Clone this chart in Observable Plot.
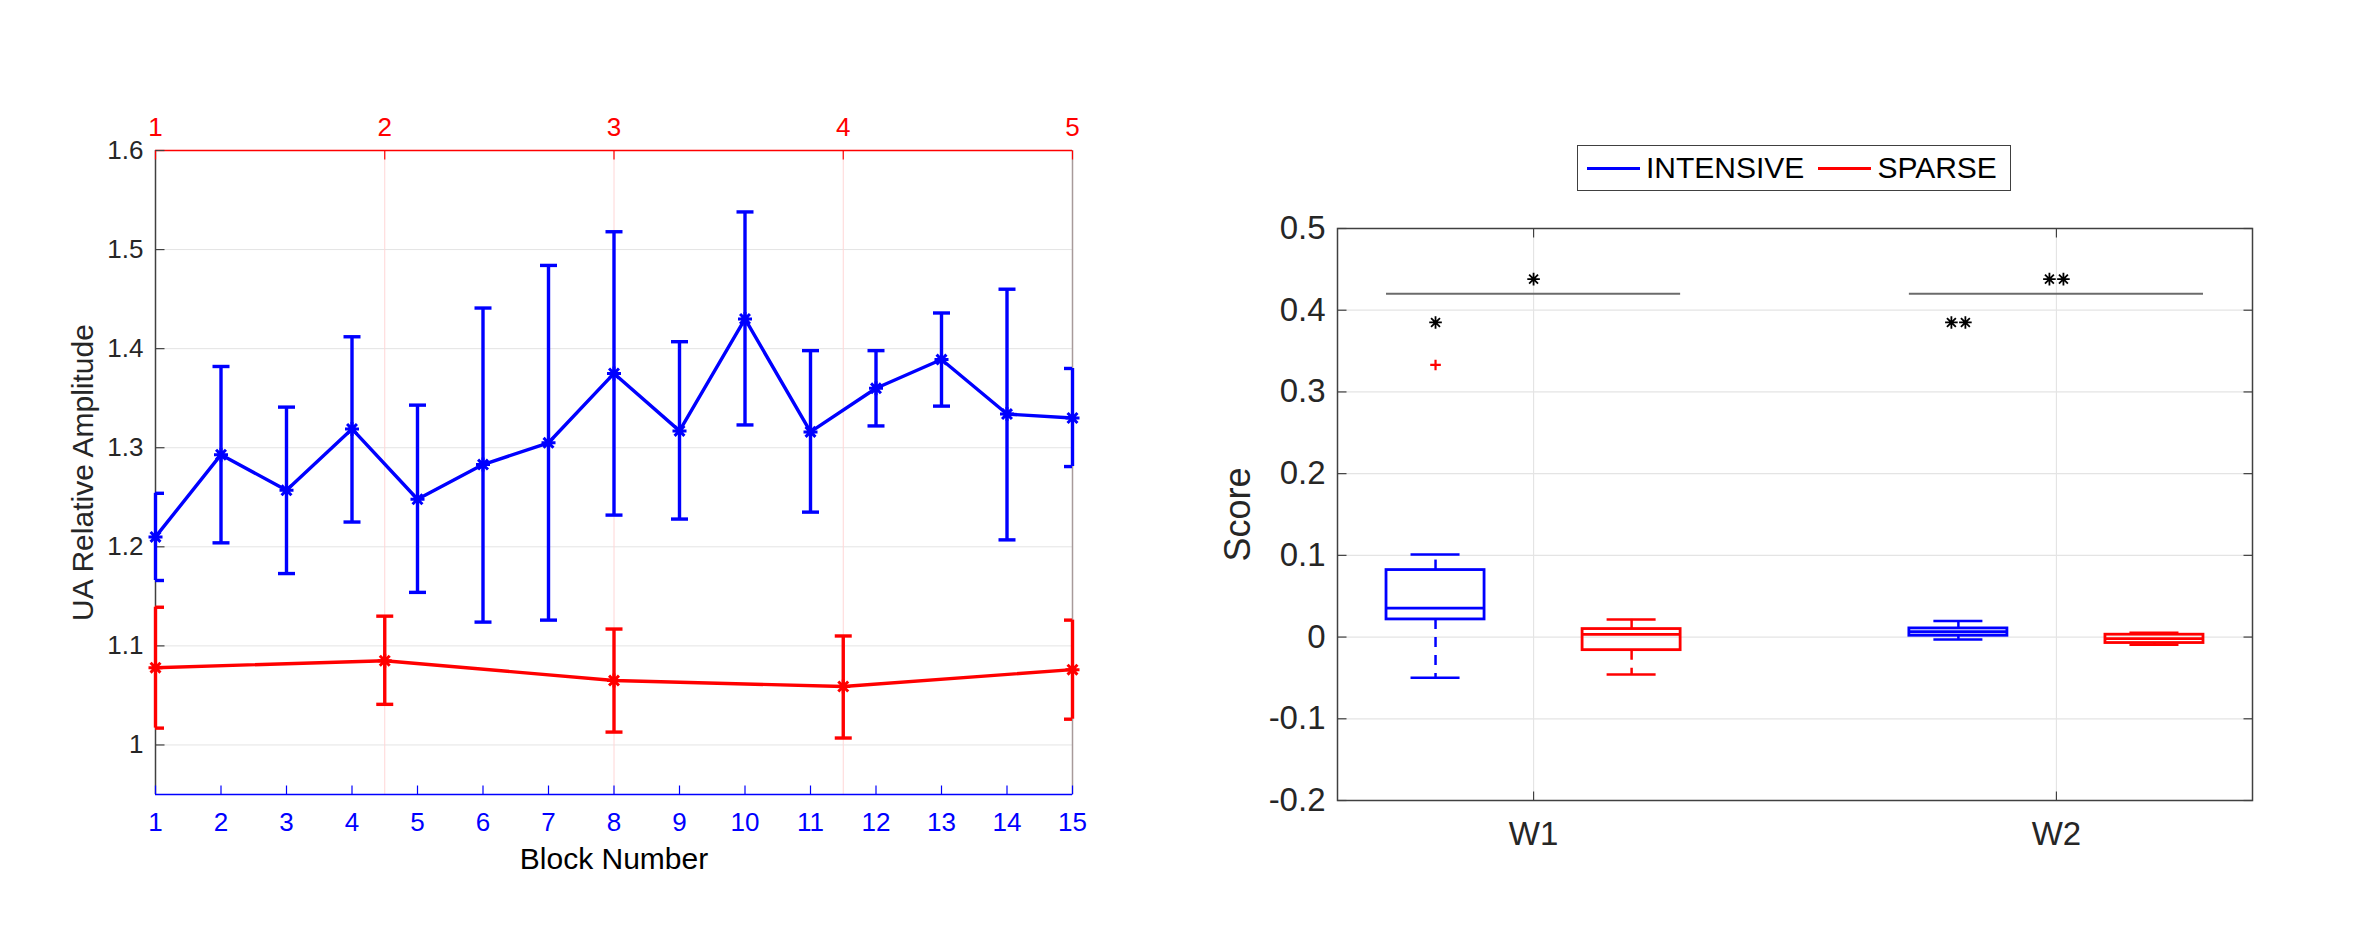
<!DOCTYPE html>
<html><head><meta charset="utf-8">
<script src="https://cdn.jsdelivr.net/npm/d3@7"></script>
<script src="https://cdn.jsdelivr.net/npm/@observablehq/plot@0.6"></script>
<style>
html,body{margin:0;padding:0;background:#fff;}
#wrap{position:relative;width:2362px;height:945px;overflow:hidden;background:#fff;font-family:"Liberation Sans",Arial,sans-serif;}
#left{position:absolute;left:0;top:0;}
#right{position:absolute;left:1150px;top:0;}
#legend{position:absolute;left:1577px;top:145px;width:434px;height:46px;box-sizing:border-box;border:1.5px solid #404040;background:#fff;display:flex;align-items:center;padding-left:9px;}
.item{display:flex;align-items:center;margin-right:14px;}
.swatch{width:53px;height:3px;margin-right:6px;}
.lab{font-size:30px;color:#000;line-height:1;font-family:"Liberation Sans",Arial,sans-serif;}
</style></head><body>
<div id="wrap"><div id="left"></div><div id="right"></div><div id="legend"></div></div>
<script>
// ---------------- Left chart data ----------------
const blocks = [1,2,3,4,5,6,7,8,9,10,11,12,13,14,15];
const intensiveMean  = [1.210,1.293,1.257,1.319,1.248,1.283,1.305,1.375,1.317,1.430,1.316,1.360,1.389,1.334,1.330];
const intensiveUpper = [1.254,1.382,1.341,1.412,1.343,1.441,1.484,1.518,1.407,1.538,1.398,1.398,1.436,1.460,1.380];
const intensiveLower = [1.166,1.204,1.173,1.225,1.154,1.124,1.126,1.232,1.228,1.323,1.235,1.322,1.342,1.207,1.281];
const sessions = [1,2,3,4,5];
const sparseMean  = [1.078,1.085,1.065,1.059,1.076];
const sparseUpper = [1.139,1.130,1.117,1.110,1.126];
const sparseLower = [1.017,1.041,1.013,1.007,1.026];
const leftYTicks = [1,1.1,1.2,1.3,1.4,1.5,1.6];
const leftYDomain = [0.95,1.6];
const blockDomain = [1,15];
const sessionDomain = [1,5];
const leftXLabel = "Block Number";
const leftYLabel = "UA Relative Amplitude";

// ---------------- Right chart data ----------------
const weeks = ["W1","W2"];
const weekPos = [1,2];
const seriesNames = ["INTENSIVE","SPARSE"];
const seriesColors = ["#0000ff","#ff0000"];
const intensiveHi  = [0.101, 0.0196];
const intensiveQ3  = [0.082, 0.0106];
const intensiveMed = [0.0355,0.0065];
const intensiveQ1  = [0.0216,0.0016];
const intensiveLo  = [-0.0498,-0.0029];
const sparseHi  = [0.0216, 0.0053];
const sparseQ3  = [0.0098, 0.0029];
const sparseMed = [0.0033,-0.0020];
const sparseQ1  = [-0.0160,-0.0073];
const sparseLo  = [-0.0457,-0.0094];
const outlierWeeks = ["W1"];
const outlierValues = [0.333];
const sigStars = [1,2];          // number of stars per week
const sigBarValue = 0.42;
const sigStarValue = 0.438;
const boxStarValue = 0.385;
const rightYTicks = [-0.2,-0.1,0,0.1,0.2,0.3,0.4,0.5];
const rightYDomain = [-0.2,0.5];
const rightXDomain = [0.625,2.375];
const rightYLabel = "Score";
const boxOffset = 0.1875, boxHalf = 0.09375, capHalf = 0.046875;

// ---------------- symbols ----------------
const star8 = {draw(ctx, size){ const r = Math.sqrt(size/Math.PI); for (let k=0;k<4;k++){ const a=k*Math.PI/4, dx=r*Math.cos(a), dy=r*Math.sin(a); ctx.moveTo(-dx,-dy); ctx.lineTo(dx,dy);} }};
const plusSym = {draw(ctx, size){ const r = Math.sqrt(size/Math.PI); ctx.moveTo(-r,0); ctx.lineTo(r,0); ctx.moveTo(0,-r); ctx.lineTo(0,r);} };
const tickSym = (dx,dy) => ({draw(ctx){ ctx.moveTo(0,0); ctx.lineTo(dx,dy);} });
const tickUp = tickSym(0,-9), tickDown = tickSym(0,9), tickRight = tickSym(9,0), tickLeft = tickSym(-9,0);
const capSym = {draw(ctx){ ctx.moveTo(-8.5,0); ctx.lineTo(8.5,0);} };

const FONT = '"Liberation Sans", Arial, sans-serif';
const BLUE = seriesColors[0], RED = seriesColors[1];
const AXIS = "#404040", TXT = "#262626", GRID = "#e4e4e4";
const LW = 3.4;

// ---------------- Left chart ----------------
const sessionScale = d3.scaleLinear(sessionDomain, blockDomain);
const intensive = blocks.map((b,i) => ({x:b, y:intensiveMean[i], hi:intensiveUpper[i], lo:intensiveLower[i]}));
const sparse = sessions.map((s,i) => ({x:sessionScale(s), y:sparseMean[i], hi:sparseUpper[i], lo:sparseLower[i]}));
const sessionTicks = sessions.map(s => sessionScale(s));

const left = Plot.plot({
  width: 1150, height: 945,
  marginLeft: 155, marginRight: 78, marginTop: 150, marginBottom: 151,
  style: {fontFamily: FONT, background: "transparent", overflow: "visible"},
  x: {domain: blockDomain},
  y: {domain: leftYDomain},
  marks: [
    Plot.ruleY(leftYTicks, {y: d=>d, stroke: GRID, strokeWidth: 1}),
    Plot.ruleX(sessionTicks, {x: d=>d, stroke: "#ffd6d6", strokeWidth: 1}),
    Plot.ruleX([blockDomain[0]], {x: d=>d, stroke: AXIS, strokeWidth: 1.5}),
    Plot.ruleX([blockDomain[1]], {x: d=>d, stroke: "#a89a9a", strokeWidth: 1.5}),
    Plot.ruleY([leftYDomain[0]], {y: d=>d, stroke: BLUE, strokeWidth: 1.5}),
    Plot.ruleY([leftYDomain[1]], {y: d=>d, stroke: RED, strokeWidth: 1.5}),
    // inward ticks
    Plot.dot(blocks, {x: d=>d, y: () => leftYDomain[0], symbol: tickUp, stroke: BLUE, fill: "none", strokeWidth: 1.2}),
    Plot.dot(sessionTicks, {x: d=>d, y: () => leftYDomain[1], symbol: tickDown, stroke: RED, fill: "none", strokeWidth: 1.2}),
    Plot.dot(leftYTicks, {x: () => blockDomain[0], y: d=>d, symbol: tickRight, stroke: AXIS, fill: "none", strokeWidth: 1.2}),
    // error bars
    Plot.ruleX(intensive, {x: "x", y1: "lo", y2: "hi", stroke: BLUE, strokeWidth: LW}),
    Plot.dot(intensive, {x: "x", y: "hi", symbol: capSym, stroke: BLUE, fill: "none", strokeWidth: LW, clip: true}),
    Plot.dot(intensive, {x: "x", y: "lo", symbol: capSym, stroke: BLUE, fill: "none", strokeWidth: LW, clip: true}),
    Plot.ruleX(sparse, {x: "x", y1: "lo", y2: "hi", stroke: RED, strokeWidth: LW}),
    Plot.dot(sparse, {x: "x", y: "hi", symbol: capSym, stroke: RED, fill: "none", strokeWidth: LW, clip: true}),
    Plot.dot(sparse, {x: "x", y: "lo", symbol: capSym, stroke: RED, fill: "none", strokeWidth: LW, clip: true}),
    // lines
    Plot.line(intensive, {x: "x", y: "y", stroke: BLUE, strokeWidth: LW}),
    Plot.line(sparse, {x: "x", y: "y", stroke: RED, strokeWidth: LW}),
    Plot.dot(intensive, {x: "x", y: "y", symbol: star8, r: 7, stroke: BLUE, fill: "none", strokeWidth: 3}),
    Plot.dot(sparse, {x: "x", y: "y", symbol: star8, r: 7, stroke: RED, fill: "none", strokeWidth: 3}),
    // axes
    Plot.axisX(blocks, {anchor: "bottom", tickSize: 0, tickPadding: 18, fontSize: 26, color: BLUE, tickFormat: d => String(d), label: null}),
    Plot.axisX(sessionTicks, {anchor: "top", tickSize: 0, tickPadding: 15, fontSize: 26, color: RED, tickFormat: d => String(Math.round(sessionScale.invert(d))), label: null}),
    Plot.axisY(leftYTicks, {anchor: "left", tickSize: 0, tickPadding: 12, fontSize: 26, color: TXT, tickFormat: d => String(d), label: null}),
    Plot.text([leftXLabel], {frameAnchor: "bottom", dy: 65, text: d=>d, fontSize: 30, fill: "#000", textAnchor: "middle", lineAnchor: "middle"}),
    Plot.text([leftYLabel], {frameAnchor: "left", dx: -72, rotate: -90, text: d=>d, fontSize: 30, fill: TXT, textAnchor: "middle", lineAnchor: "middle"})
  ]
});
document.getElementById("left").appendChild(left);

// ---------------- Right chart ----------------
const boxes = [];
weeks.forEach((w,i) => {
  boxes.push({series: seriesNames[0], pos: weekPos[i]-boxOffset, hi: intensiveHi[i], q3: intensiveQ3[i], med: intensiveMed[i], q1: intensiveQ1[i], lo: intensiveLo[i]});
  boxes.push({series: seriesNames[1], pos: weekPos[i]+boxOffset, hi: sparseHi[i], q3: sparseQ3[i], med: sparseMed[i], q1: sparseQ1[i], lo: sparseLo[i]});
});
const outliers = outlierWeeks.map((w,i) => ({pos: weekPos[weeks.indexOf(w)] - boxOffset, v: outlierValues[i]}));
const sig = weeks.map((w,i) => ({pos: weekPos[i], n: sigStars[i], x1: weekPos[i]-boxOffset-boxHalf, x2: weekPos[i]+boxOffset+boxHalf, boxPos: weekPos[i]-boxOffset}));
const single = sig.filter(d => d.n === 1), double = sig.filter(d => d.n === 2);
const starOpts = {symbol: star8, r: 6.3, stroke: "#000", fill: "none", strokeWidth: 1.8};

const right = Plot.plot({
  width: 1212, height: 945,
  marginLeft: 187, marginRight: 110, marginTop: 228, marginBottom: 145,
  style: {fontFamily: FONT, background: "transparent", overflow: "visible"},
  x: {domain: rightXDomain},
  y: {domain: rightYDomain},
  color: {domain: seriesNames, range: seriesColors},
  marks: [
    Plot.ruleY(rightYTicks, {y: d=>d, stroke: GRID, strokeWidth: 1.2}),
    Plot.ruleX(weekPos, {x: d=>d, stroke: GRID, strokeWidth: 1.2}),
    Plot.frame({stroke: AXIS, strokeWidth: 1.5}),
    Plot.dot(rightYTicks, {x: () => rightXDomain[0], y: d=>d, symbol: tickRight, stroke: AXIS, fill: "none", strokeWidth: 1.2}),
    Plot.dot(rightYTicks, {x: () => rightXDomain[1], y: d=>d, symbol: tickLeft, stroke: AXIS, fill: "none", strokeWidth: 1.2}),
    Plot.dot(weekPos, {x: d=>d, y: () => rightYDomain[0], symbol: tickUp, stroke: AXIS, fill: "none", strokeWidth: 1.2}),
    Plot.dot(weekPos, {x: d=>d, y: () => rightYDomain[1], symbol: tickDown, stroke: AXIS, fill: "none", strokeWidth: 1.2}),
    // whiskers
    Plot.ruleX(boxes, {x: "pos", y1: "q3", y2: "hi", stroke: "series", strokeWidth: 2.5, strokeDasharray: "10,8"}),
    Plot.ruleX(boxes, {x: "pos", y1: "q1", y2: "lo", stroke: "series", strokeWidth: 2.5, strokeDasharray: "10,8"}),
    Plot.ruleY(boxes, {y: "hi", x1: d => d.pos-capHalf, x2: d => d.pos+capHalf, stroke: "series", strokeWidth: 2.5}),
    Plot.ruleY(boxes, {y: "lo", x1: d => d.pos-capHalf, x2: d => d.pos+capHalf, stroke: "series", strokeWidth: 2.5}),
    // boxes
    Plot.rect(boxes, {x1: d => d.pos-boxHalf, x2: d => d.pos+boxHalf, y1: "q1", y2: "q3", stroke: "series", fill: "none", strokeWidth: 2.8}),
    Plot.ruleY(boxes, {y: "med", x1: d => d.pos-boxHalf, x2: d => d.pos+boxHalf, stroke: "series", strokeWidth: 2.8}),
    // outliers
    Plot.dot(outliers, {x: "pos", y: "v", symbol: plusSym, r: 5.3, stroke: RED, fill: "none", strokeWidth: 2.2}),
    // significance
    Plot.ruleY(sig, {y: () => sigBarValue, x1: "x1", x2: "x2", stroke: "#6b6b6b", strokeWidth: 2}),
    Plot.dot(single, {x: "pos", y: () => sigStarValue, ...starOpts}),
    Plot.dot(double, {x: "pos", y: () => sigStarValue, dx: -7, ...starOpts}),
    Plot.dot(double, {x: "pos", y: () => sigStarValue, dx: 7, ...starOpts}),
    Plot.dot(single, {x: "boxPos", y: () => boxStarValue, ...starOpts}),
    Plot.dot(double, {x: "boxPos", y: () => boxStarValue, dx: -7, ...starOpts}),
    Plot.dot(double, {x: "boxPos", y: () => boxStarValue, dx: 7, ...starOpts}),
    // axes
    Plot.axisX(weekPos, {anchor: "bottom", tickSize: 0, tickPadding: 21, fontSize: 33, color: TXT, tickFormat: d => weeks[weekPos.indexOf(d)], label: null}),
    Plot.axisY(rightYTicks, {anchor: "left", tickSize: 0, tickPadding: 12, fontSize: 33, color: TXT, tickFormat: d => String(d), label: null}),
    Plot.text([rightYLabel], {frameAnchor: "left", dx: -99, rotate: -90, text: d=>d, fontSize: 36, fill: TXT, textAnchor: "middle", lineAnchor: "middle"})
  ]
});
document.getElementById("right").appendChild(right);

// ---------------- Legend ----------------
const legend = document.getElementById("legend");
seriesNames.forEach((name, i) => {
  const item = document.createElement("div"); item.className = "item";
  const sw = document.createElement("div"); sw.className = "swatch"; sw.style.background = seriesColors[i];
  const lab = document.createElement("span"); lab.className = "lab"; lab.textContent = name;
  item.appendChild(sw); item.appendChild(lab); legend.appendChild(item);
});
</script>
</body></html>
